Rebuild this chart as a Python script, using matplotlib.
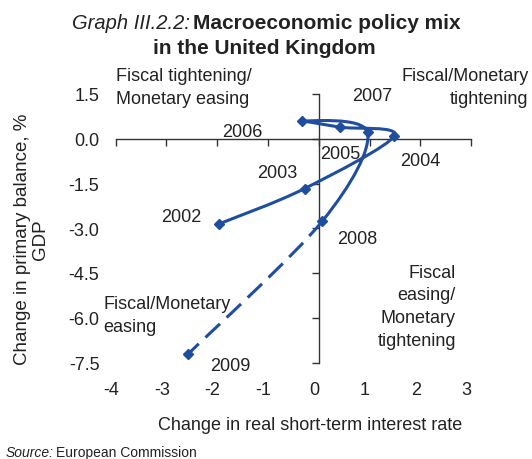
"""UK macroeconomic policy mix: primary balance vs real short-term rate"""
import matplotlib
matplotlib.use("Agg")
import matplotlib.pyplot as plt
from matplotlib.path import Path
from matplotlib.patches import PathPatch
import numpy as np

plt.rcParams['font.family'] = ['Liberation Sans', 'DejaVu Sans']

years = ['2002', '2003', '2004', '2005', '2006', '2007', '2008', '2009']
rate_change = [-1.96, -0.28, 1.49, 0.41, -0.33, 0.96, 0.07, -2.57]
balance_change = [-2.85, -1.67, 0.10, 0.39, 0.60, 0.21, -2.76, -7.21]
yticks = [-7.5, -6.0, -4.5, -3.0, -1.5, 0.0, 1.5]
xticks = [-4, -3, -2, -1, 0, 1, 2, 3]

blue = '#1f4e9f'
txt = '#222222'

fig = plt.figure(figsize=(5.32, 4.59), dpi=100)
ax = fig.add_axes([0.2175, 0.2102, 0.668, 0.585])
ax.set_xlim(-4, 3)
ax.set_ylim(-7.5, 1.5)

# axes cross at zero
ax.spines['left'].set_position(('data', 0))
ax.spines['bottom'].set_position(('data', 0))
ax.spines['top'].set_visible(False)
ax.spines['right'].set_visible(False)
for s in ('left', 'bottom'):
    ax.spines[s].set_color('#333333')
    ax.spines[s].set_linewidth(1.0)
ax.set_xticks(xticks)
ax.set_yticks(yticks)
ax.tick_params(axis='both', direction='out', length=5, width=1.0,
               color='#333333', labelleft=False, labelbottom=False)

# tick labels at the low side of the plot
for v in yticks:
    ax.text(-4.32, v - 0.1, f'{v:.1f}', ha='right', va='center', fontsize=13, color=txt)
for v in xticks:
    ax.text(v - 0.09, -8.45, f'{v}', ha='center', va='center', fontsize=13, color=txt)


# smoothed line through the points (Catmull-Rom as cubic Bezier)
def smooth_path(xs, ys, i0, i1):
    pts = np.column_stack([xs, ys])
    n = len(pts)
    verts = [pts[i0]]
    codes = [Path.MOVETO]
    for i in range(i0, i1):
        p0 = pts[max(i - 1, 0)]
        p1 = pts[i]
        p2 = pts[i + 1]
        p3 = pts[min(i + 2, n - 1)]
        verts += [p1 + (p2 - p0) / 6, p2 - (p3 - p1) / 6, p2]
        codes += [Path.CURVE4] * 3
    return Path(verts, codes)


ax.add_patch(PathPatch(smooth_path(rate_change, balance_change, 0, 6),
                       facecolor='none', edgecolor=blue, lw=2.2,
                       capstyle='round', zorder=3))
ax.add_patch(PathPatch(smooth_path(rate_change, balance_change, 6, 7),
                       facecolor='none', edgecolor=blue, lw=2.2,
                       linestyle=(0, (6.5, 3)), zorder=3))
ax.plot(rate_change, balance_change, linestyle='none', marker='D',
        markersize=5, color=blue, zorder=4)

# year labels
label_pos = {'2002': (-2.7, -2.63), '2003': (-0.82, -1.17), '2004': (2.0, -0.77),
             '2005': (0.43, -0.53), '2006': (-1.5, 0.21), '2007': (1.05, 1.4),
             '2008': (0.75, -3.37), '2009': (-1.74, -7.63)}
for y in years:
    ax.text(*label_pos[y], y, ha='center', va='center', fontsize=13, color=txt)

# quadrant labels
ax.text(-4.0, 1.7, 'Fiscal tightening/\nMonetary easing', ha='left', va='center',
        fontsize=13, color=txt, linespacing=1.45)
ax.text(4.13, 1.7, 'Fiscal/Monetary\ntightening', ha='right', va='center',
        fontsize=13, color=txt, linespacing=1.45)
ax.text(2.7, -5.65, 'Fiscal\neasing/\nMonetary\ntightening', ha='right', va='center',
        fontsize=13, color=txt, linespacing=1.45)
ax.text(-4.25, -5.95, 'Fiscal/Monetary\neasing', ha='left', va='center',
        fontsize=13, color=txt, linespacing=1.45)

# title
fig.text(0.357, 0.948, 'Graph III.2.2:', ha='right', va='center', fontsize=14.5,
         style='italic', color=txt)
fig.text(0.363, 0.948, 'Macroeconomic policy mix', ha='left', va='center',
         fontsize=15, weight='bold', color=txt)
fig.text(0.496, 0.894, 'in the United Kingdom', ha='center', va='center',
         fontsize=15, weight='bold', color=txt)

# axis titles
fig.text(0.059, 0.478, 'Change in primary balance, %\nGDP', ha='center',
         va='center', rotation=90, fontsize=13.5, color=txt, linespacing=1.1)
fig.text(0.583, 0.072, 'Change in real short-term interest rate', ha='center',
         va='center', fontsize=13, color=txt)

fig.text(0.01, 0.012, 'Source:', ha='left', va='center', fontsize=10,
         style='italic', color=txt)
fig.text(0.105, 0.012, 'European Commission', ha='left', va='center',
         fontsize=10, color=txt)

fig.savefig('out.png', dpi=100)
